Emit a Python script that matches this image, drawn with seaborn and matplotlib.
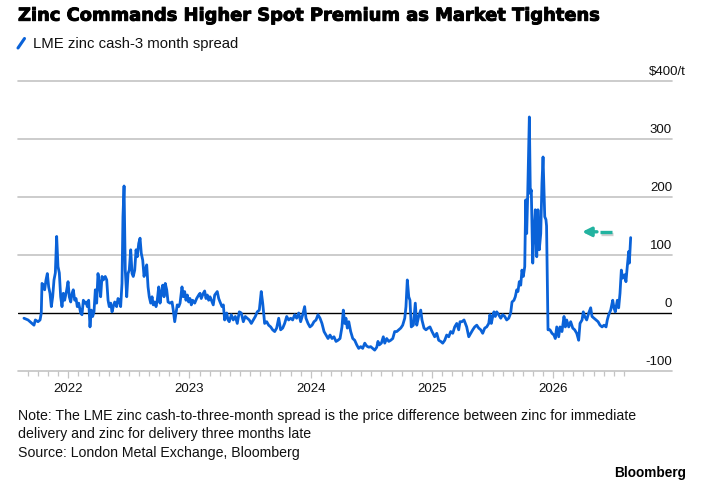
import numpy as np
import pandas as pd
import matplotlib
matplotlib.use("Agg")
import matplotlib.pyplot as plt
from matplotlib.lines import Line2D
from matplotlib import patheffects as pe
import seaborn as sns

# ---------------- data (decimal years, $/t) ----------------
dates = [
    2021.634, 2021.668, 2021.695, 2021.717, 2021.728, 2021.750, 2021.767, 2021.777,
    2021.783, 2021.794, 2021.805, 2021.816, 2021.827, 2021.838, 2021.849, 2021.860,
    2021.871, 2021.882, 2021.893, 2021.904, 2021.915, 2021.926, 2021.937, 2021.948,
    2021.959, 2021.970, 2021.987, 2021.998, 2022.008, 2022.020, 2022.031, 2022.041,
    2022.053, 2022.064, 2022.074, 2022.086, 2022.102, 2022.113, 2022.124, 2022.135,
    2022.146, 2022.157, 2022.168, 2022.179, 2022.190, 2022.201, 2022.212, 2022.223,
    2022.234, 2022.245, 2022.256, 2022.267, 2022.278, 2022.289, 2022.305, 2022.317,
    2022.328, 2022.338, 2022.350, 2022.361, 2022.371, 2022.383, 2022.399, 2022.410,
    2022.421, 2022.432, 2022.443, 2022.451, 2022.460, 2022.470, 2022.482, 2022.493,
    2022.503, 2022.515, 2022.526, 2022.536, 2022.548, 2022.559, 2022.569, 2022.581,
    2022.592, 2022.602, 2022.614, 2022.625, 2022.635, 2022.647, 2022.658, 2022.668,
    2022.680, 2022.691, 2022.701, 2022.713, 2022.724, 2022.734, 2022.746, 2022.757,
    2022.767, 2022.779, 2022.790, 2022.800, 2022.812, 2022.823, 2022.839, 2022.856,
    2022.866, 2022.878, 2022.889, 2022.899, 2022.911, 2022.922, 2022.938, 2022.949,
    2022.960, 2022.971, 2022.982, 2022.993, 2023.004, 2023.015, 2023.026, 2023.043,
    2023.059, 2023.076, 2023.087, 2023.097, 2023.114, 2023.125, 2023.136, 2023.147,
    2023.158, 2023.169, 2023.186, 2023.196, 2023.208, 2023.219, 2023.229, 2023.241,
    2023.252, 2023.268, 2023.279, 2023.290, 2023.307, 2023.318, 2023.328, 2023.345,
    2023.361, 2023.378, 2023.394, 2023.411, 2023.427, 2023.444, 2023.460, 2023.477,
    2023.493, 2023.510, 2023.526, 2023.543, 2023.559, 2023.576, 2023.592, 2023.604,
    2023.620, 2023.637, 2023.653, 2023.670, 2023.686, 2023.703, 2023.719, 2023.736,
    2023.752, 2023.769, 2023.785, 2023.802, 2023.818, 2023.835, 2023.851, 2023.868,
    2023.884, 2023.901, 2023.917, 2023.934, 2023.950, 2023.961, 2023.978, 2023.994,
    2024.011, 2024.027, 2024.044, 2024.060, 2024.077, 2024.093, 2024.110, 2024.126,
    2024.143, 2024.159, 2024.176, 2024.192, 2024.209, 2024.225, 2024.242, 2024.258,
    2024.269, 2024.281, 2024.291, 2024.302, 2024.314, 2024.330, 2024.347, 2024.363,
    2024.380, 2024.396, 2024.413, 2024.429, 2024.446, 2024.462, 2024.479, 2024.495,
    2024.512, 2024.528, 2024.545, 2024.555, 2024.566, 2024.583, 2024.599, 2024.611,
    2024.627, 2024.644, 2024.660, 2024.677, 2024.693, 2024.710, 2024.726, 2024.743,
    2024.759, 2024.776, 2024.786, 2024.797, 2024.809, 2024.819, 2024.830, 2024.847,
    2024.863, 2024.875, 2024.891, 2024.908, 2024.918, 2024.935, 2024.951, 2024.968,
    2024.984, 2025.001, 2025.023, 2025.040, 2025.056, 2025.073, 2025.089, 2025.106,
    2025.122, 2025.139, 2025.155, 2025.172, 2025.188, 2025.205, 2025.221, 2025.232,
    2025.248, 2025.265, 2025.276, 2025.287, 2025.304, 2025.320, 2025.337, 2025.353,
    2025.370, 2025.386, 2025.403, 2025.419, 2025.436, 2025.452, 2025.469, 2025.479,
    2025.490, 2025.502, 2025.512, 2025.523, 2025.535, 2025.551, 2025.568, 2025.584,
    2025.601, 2025.617, 2025.634, 2025.650, 2025.661, 2025.677, 2025.688, 2025.700,
    2025.710, 2025.721, 2025.733, 2025.743, 2025.754, 2025.766, 2025.774, 2025.782,
    2025.790, 2025.804, 2025.812, 2025.820, 2025.832, 2025.842, 2025.853, 2025.865,
    2025.875, 2025.886, 2025.898, 2025.908, 2025.917, 2025.931, 2025.941, 2025.946,
    2025.958, 2025.974, 2025.991, 2026.007, 2026.018, 2026.030, 2026.046, 2026.057,
    2026.073, 2026.090, 2026.101, 2026.112, 2026.129, 2026.145, 2026.162, 2026.178,
    2026.195, 2026.211, 2026.222, 2026.239, 2026.249, 2026.261, 2026.277, 2026.294,
    2026.310, 2026.321, 2026.338, 2026.354, 2026.371, 2026.387, 2026.404, 2026.420,
    2026.437, 2026.447, 2026.459, 2026.475, 2026.492, 2026.502, 2026.513, 2026.530,
    2026.541, 2026.552, 2026.563, 2026.574, 2026.591, 2026.601, 2026.612, 2026.624,
    2026.629, 2026.640,
]
spread = [
    -9, -12, -17, -21, -12, -15, -12, 0,
    51, 48, 40, 57, 68, 45, 34, 11,
    28, 57, 69, 132, 80, 69, 28, 11,
    34, 22, 40, 54, 28, 19, 34, 40,
    22, 25, 11, 17, 0, -3, 22, 17,
    19, 11, 22, -24, 5, -6, 2, 40,
    17, 68, 51, 28, 63, 57, 63, 57,
    22, 11, 17, 2, 11, 19, 11, 25,
    22, 11, 51, 166, 219, 74, 28, 68,
    74, 109, 68, 63, 74, 109, 97, 120,
    129, 103, 91, 63, 74, 83, 45, 28,
    17, 28, 14, 19, 11, 22, 45, 17,
    34, 48, 28, 51, 40, 19, 17, 19,
    5, -15, 0, 14, 11, 17, 45, 28,
    37, 22, 31, 19, 25, 14, 22, 17,
    25, 31, 34, 25, 34, 38, 25, 31,
    22, 28, 19, 14, 31, 34, 37, 25,
    19, 11, 14, -12, 0, -12, -15, -3,
    -12, -6, -18, 2, 0, -15, -6, -9,
    -12, -18, -12, -6, 2, 5, 37, 17,
    -18, -15, -21, -24, -29, -32, -26, -9,
    -29, -26, -18, -6, -12, -9, -12, -3,
    -9, 0, -15, -3, 11, -9, -18, -24,
    -21, -15, -12, -3, -9, -18, -32, -38,
    -44, -38, -44, -41, -49, -47, -44, -24,
    5, -18, -9, -26, -15, -32, -44, -47,
    -55, -61, -58, -61, -52, -57, -59, -58,
    -61, -64, -59, -49, -55, -52, -41, -52,
    -44, -49, -47, -44, -32, -32, -29, -26,
    -21, -9, 11, 57, 28, 22, -24, -21,
    17, -21, -6, 5, -12, -26, -29, -26,
    -24, -32, -41, -35, -47, -49, -52, -47,
    -38, -41, -32, -35, -24, -18, -29, -15,
    -15, -12, -18, -24, -41, -35, -29, -24,
    -21, -26, -29, -35, -26, -24, -18, -3,
    -18, -6, 2, -6, 2, -3, -9, -3,
    -6, -12, -9, 0, 19, 22, 28, 40,
    37, 54, 48, 74, 63, 80, 195, 137,
    200, 338, 206, 212, 86, 137, 178, 97,
    178, 109, 137, 224, 269, 166, 161, 150,
    -29, -29, -35, -38, -44, -24, -41, -24,
    -32, -6, -24, -12, -24, -15, -26, -29,
    -35, -47, -18, -12, 2, -6, -12, 0,
    9, -6, -9, -12, -15, -21, -24, -21,
    -24, -12, -3, 5, 22, 9, 2, 22,
    9, 34, 74, 60, 66, 54, 80, 106,
    86, 130,
]

year_ticks = [2022, 2023, 2024, 2025, 2026]
year_labels = ["2022", "2023", "2024", "2025", "2026"]
y_ticks = [-100, 0, 100, 200, 300]
y_labels = ["-100", "0", "100", "200", "300"]
top_value = 400
top_label = "$400/t"

title = "Zinc Commands Higher Spot Premium as Market Tightens"
legend_label = "LME zinc cash-3 month spread"
note_lines = [
    "Note: The LME zinc cash-to-three-month spread is the price difference between zinc for immediate",
    "delivery and zinc for delivery three months late",
]
source = "Source: London Metal Exchange, Bloomberg"
brand = "Bloomberg"

# arrow annotation (decoration)
arrow_value = 140
arrow_head, arrow_shaft_end, dash_start, dash_end = 2026.24, 2026.362, 2026.387, 2026.486

# ---------------- style ----------------
BLUE = "#0a62d8"
GRID = "#c4c4c4"
TEAL = "#22b3a0"
TXT = "#111111"

sns.set_style("white")
plt.rcParams["font.family"] = ["Liberation Sans", "DejaVu Sans"]

W, H = 709, 486
fig = plt.figure(figsize=(W / 100, H / 100), dpi=100)


def fx(px):
    return px / W


def fy(py):
    return 1 - py / H


ax = fig.add_axes([fx(18), fy(371), fx(672) - fx(18), fy(81) - fy(371)])

df = pd.DataFrame({"date": dates, "spread": spread})
sns.lineplot(data=df, x="date", y="spread", ax=ax, color=BLUE, linewidth=2.0,
             estimator=None, sort=False, legend=False)

ax.set_xlim(2021.585, 2026.981)
ax.set_ylim(-100, 400)
for s in ax.spines.values():
    s.set_visible(False)
ax.grid(False)
ax.set_xlabel("")
ax.set_ylabel("")

for v in y_ticks + [top_value]:
    if v == 0:
        continue
    ax.axhline(v, color=GRID, lw=1.2, zorder=0.5, clip_on=False)
ax.axhline(0, color="black", lw=1.0, zorder=1.5)

ax.set_yticks([])
ax.set_xticks(year_ticks)
ax.set_xticklabels(year_labels)
minor = [2021 + m / 12 for m in range(8, 68) if m % 12 != 0]
ax.set_xticks(minor, minor=True)
ax.tick_params(axis="x", which="both", bottom=True, top=False)
ax.tick_params(axis="x", which="major", length=5.3, width=0.9, color=GRID,
               direction="out", pad=3.2, labelsize=9.5, labelcolor=TXT)
ax.tick_params(axis="x", which="minor", length=3.4, width=0.9, color=GRID,
               direction="out")

for v, l in zip(y_ticks, y_labels):
    ax.annotate(l, xy=(1, v), xycoords=("axes fraction", "data"),
                xytext=(0, 4.6), textcoords="offset points",
                ha="right", va="baseline", fontsize=9.5, color=TXT)
ax.annotate(top_label, xy=(1, top_value), xycoords=("axes fraction", "data"),
            xytext=(9.8, 4.6), textcoords="offset points",
            ha="right", va="baseline", fontsize=9.5, color=TXT,
            annotation_clip=False)

# teal arrow
shadow_line = [pe.SimpleLineShadow(offset=(0.6, -1.6), shadow_color="#777777", alpha=0.35),
               pe.Normal()]
ax.plot([dash_start, dash_end], [arrow_value, arrow_value], color=TEAL, lw=2.4,
        solid_capstyle="butt", path_effects=shadow_line, zorder=3)
ax.annotate("", xy=(arrow_head, arrow_value), xytext=(arrow_shaft_end, arrow_value),
            arrowprops=dict(arrowstyle="-|>", color=TEAL, lw=2.4, mutation_scale=13,
                            shrinkA=0, shrinkB=0,
                            path_effects=[pe.SimplePatchShadow(offset=(0.6, -1.6),
                                                               shadow_rgbFace="#777777",
                                                               alpha=0.35),
                                          pe.Normal()]),
            zorder=3)

# ---------------- texts ----------------
renderer = fig.canvas.get_renderer()


def fit(t, target_px):
    w = t.get_window_extent(renderer).width
    t.set_fontsize(t.get_fontsize() * target_px / w)


t_title = fig.text(fx(18), fy(20.7), title, fontsize=13, fontweight="bold",
                   family=["DejaVu Sans"], color="black", va="baseline", ha="left")
fit(t_title, 578)
t_title.set_path_effects([pe.withStroke(linewidth=0.7, foreground="black")])

fig.add_artist(Line2D([fx(18), fx(24.5)], [fy(48), fy(38.5)], color=BLUE, lw=2.2,
                      solid_capstyle="round"))
t_leg = fig.text(fx(33), fy(48.3), legend_label, fontsize=10, color=TXT,
                 va="baseline", ha="left")
fit(t_leg, 205)

t_n1 = fig.text(fx(18), fy(419.8), note_lines[0], fontsize=9.5, color=TXT,
                va="baseline", ha="left")
fit(t_n1, 620)
ns = t_n1.get_fontsize()
fig.text(fx(18), fy(437.6), note_lines[1], fontsize=ns, color=TXT,
         va="baseline", ha="left")
fig.text(fx(18), fy(457.4), source, fontsize=ns, color=TXT,
         va="baseline", ha="left")

t_b = fig.text(fx(686), fy(477), brand, fontsize=9.5, fontweight="bold",
               color="black", va="baseline", ha="right")
fit(t_b, 72)

fig.savefig("out.png", dpi=100)
